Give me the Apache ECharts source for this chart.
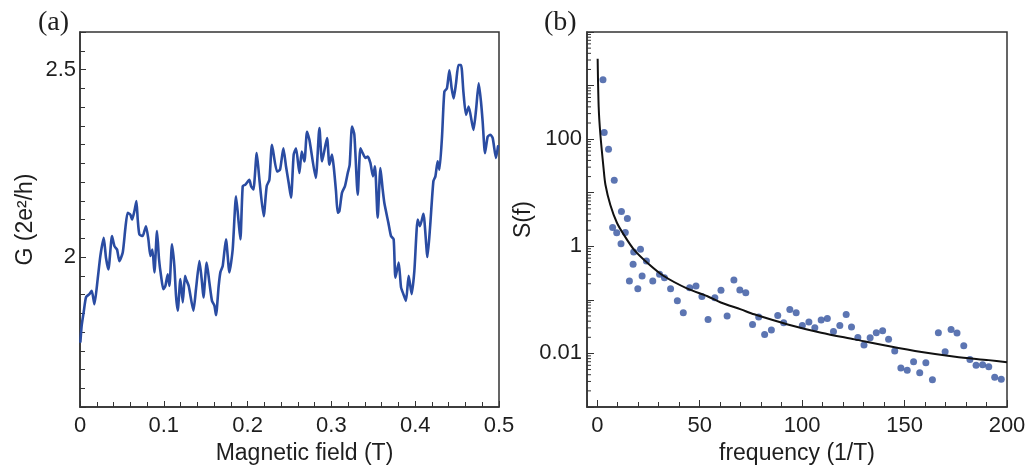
<!DOCTYPE html>
<html>
<head>
<meta charset="utf-8">
<script src="https://cdn.jsdelivr.net/npm/echarts@6/dist/echarts.min.js"></script>
<style>
  html, body { margin: 0; padding: 0; background: #fff; }
  #main { width: 1030px; height: 473px; }
</style>
</head>
<body>
<div id="main"></div>
<script>
// (a) conductance vs magnetic field
var fieldT = [0.0005,0.002,0.0044,0.0072,0.0112,0.014,0.0172,0.0211,0.0243,0.0283,
  0.031,0.0339,0.0382,0.0411,0.0442,0.047,0.051,0.0542,0.0569,0.0601,
  0.0621,0.0649,0.0673,0.0689,0.0709,0.0748,0.0768,0.0788,0.0816,0.084,
  0.0864,0.0888,0.0919,0.0943,0.0967,0.0995,0.1019,0.1047,0.1067,0.1098,
  0.1126,0.1146,0.1166,0.1198,0.1226,0.1253,0.1265,0.1297,0.1353,0.1384,
  0.1425,0.1456,0.1473,0.1512,0.1544,0.1575,0.1604,0.1623,0.1655,0.1675,
  0.1703,0.1742,0.1783,0.1822,0.1862,0.1894,0.1914,0.1942,0.1974,0.2021,
  0.2041,0.2069,0.2109,0.2141,0.2192,0.2228,0.226,0.2291,0.2351,0.2387,
  0.2427,0.2458,0.249,0.2518,0.255,0.2578,0.2618,0.2646,0.2678,0.2709,
  0.2738,0.2813,0.2857,0.2888,0.2948,0.2976,0.3007,0.3027,0.3055,0.3075,
  0.3095,0.3126,0.3162,0.3195,0.3218,0.3246,0.3274,0.3314,0.3346,0.3374,
  0.3406,0.3433,0.3465,0.3496,0.352,0.3552,0.3585,0.3612,0.3632,0.368,
  0.3711,0.3743,0.3764,0.3803,0.3831,0.3859,0.389,0.3922,0.3958,0.399,
  0.403,0.4057,0.4098,0.4146,0.4177,0.4217,0.4241,0.4268,0.4289,0.432,
  0.4348,0.4379,0.4408,0.4435,0.4459,0.4487,0.4516,0.4547,0.4575,0.4606,
  0.4638,0.4695,0.4726,0.4758,0.4785,0.4805,0.4833,0.4865,0.4897,0.4925,
  0.4964,0.4988];
var condG = [1.774,1.817,1.853,1.893,1.901,1.910,1.874,1.941,2.003,2.051,
  1.998,1.967,2.056,2.029,2.020,1.989,2.012,2.078,2.118,2.113,
  2.100,2.122,2.149,2.100,2.060,2.056,2.069,2.082,2.047,2.003,
  2.020,1.959,2.069,1.994,1.950,1.914,1.923,1.954,1.923,2.034,
  1.976,1.896,1.857,1.941,1.879,1.950,1.941,1.923,1.857,1.914,
  1.989,1.932,1.892,1.985,1.932,1.883,1.870,1.845,1.923,1.959,
  1.976,2.047,1.959,2.020,2.162,2.091,2.047,2.189,2.193,2.206,
  2.189,2.180,2.277,2.206,2.109,2.189,2.206,2.299,2.228,2.233,
  2.290,2.242,2.198,2.158,2.273,2.290,2.224,2.281,2.255,2.334,
  2.312,2.211,2.344,2.255,2.317,2.246,2.273,2.242,2.175,2.118,
  2.122,2.171,2.189,2.224,2.246,2.348,2.326,2.166,2.290,2.277,
  2.264,2.268,2.251,2.215,2.242,2.105,2.237,2.180,2.144,2.091,
  2.056,2.047,1.945,1.985,1.919,1.901,1.883,1.950,1.901,1.963,
  2.100,2.082,2.115,2.000,2.078,2.202,2.215,2.255,2.233,2.321,
  2.441,2.450,2.498,2.450,2.423,2.463,2.512,2.512,2.441,2.379,
  2.401,2.339,2.392,2.463,2.414,2.361,2.277,2.321,2.326,2.317,
  2.264,2.295];

// (b) power spectrum points
var freqPts = [2.8,3.4,5.5,7.5,8.3,9.5,11.6,11.8,13.7,14.7,
  15.7,17.5,17.8,19.8,21.1,21.9,24,27.1,30.4,32.8,
  35.8,39.1,42,45.1,48.2,51.1,54.1,57.4,60.4,63.4,
  66.7,69.6,72.5,75.8,78.8,81.7,85,88.1,91,94,
  97.1,100.1,103.3,106.2,109.3,112.3,115.3,118.4,121.5,124.1,
  127.2,130.2,133.2,136.2,139.3,142.2,145.2,148.2,151.3,154.4,
  157.4,160.4,163.6,166.5,169.8,172.7,175.6,178.9,181.9,184.9,
  188.1,191.1,194,197.2,200.2];
var specPts = [1280,133,65,2.24,17.1,1.78,1.12,4.46,1.80,3.3,
  0.225,0.46,0.78,0.162,0.88,0.28,0.53,0.225,0.30,0.26,
  0.162,0.0966,0.0576,0.169,0.181,0.115,0.043,0.11,0.151,0.050,
  0.234,0.153,0.136,0.0348,0.0478,0.0226,0.0273,0.0513,0.0374,0.0664,
  0.0577,0.0333,0.0388,0.030,0.0419,0.0451,0.0258,0.0331,0.0531,0.0313,
  0.0199,0.0143,0.0196,0.0242,0.0265,0.0183,0.0111,0.00536,0.00485,0.00703,
  0.00435,0.0067,0.00324,0.0244,0.0108,0.0281,0.024,0.0139,0.00773,0.00601,
  0.00618,0.00564,0.0036,0.0033,0.00555];

// (b) fitted curve
var fitFreq = [0.2,0.7,1.5,3.1,4,6.4,9.6,12.9,17.8,24.4,32.5,44,53.8,60.3,70.1,76.6,93,109.3,125.6,142,158.3,174.7,191,200];
var fitS = [3160,398,126,28.2,14.1,5.89,2.75,1.66,0.879,0.495,0.279,0.162,0.117,0.0891,0.0664,0.0537,0.0348,0.0244,0.0183,0.0137,0.0106,0.00867,0.0075,0.00687];

// axis labels
var leftYLabels = [2, 2.5];
var rightYLabels = [100, 1, 0.01];
var logDecades = [0.001, 0.01, 0.1, 1, 10, 100, 1000];
var logSteps = [2, 3, 4, 5, 6, 7, 8, 9];

var ink = '#1e1e1e';
var frame = '#333';
var sans = 'Liberation Sans';

function pairs(xs, ys) {
  return xs.map(function (x, i) { return [x, ys[i]]; });
}

var minorLogTicks = [];
logDecades.forEach(function (d) {
  logSteps.forEach(function (s) { minorLogTicks.push([-5, d * s]); });
});

var chart = echarts.init(document.getElementById('main'));

var option = {
  animation: false,
  textStyle: { fontFamily: sans },
  title: [
    { text: '(a)', left: 33, top: 4, textStyle: { fontFamily: 'Liberation Serif', fontSize: 28, fontWeight: 'normal', color: ink } },
    { text: '(b)', left: 539, top: 4, textStyle: { fontFamily: 'Liberation Serif', fontSize: 28, fontWeight: 'normal', color: ink } }
  ],
  grid: [
    { left: 80, top: 32, width: 419, height: 375, show: true, borderColor: frame, borderWidth: 1.5 },
    { left: 587, top: 32, width: 420, height: 375, show: true, borderColor: frame, borderWidth: 1.5 }
  ],
  xAxis: [
    {
      gridIndex: 0, type: 'value', min: 0, max: 0.5, interval: 0.1,
      name: 'Magnetic field (T)', nameLocation: 'middle', nameGap: 31,
      nameTextStyle: { fontSize: 23, color: ink, padding: [0, 0, 0, 30] },
      axisLine: { onZero: false, lineStyle: { color: frame, width: 1.5 } },
      axisTick: { inside: true, length: 6, lineStyle: { color: frame } },
      minorTick: { show: true, splitNumber: 5, length: 5, lineStyle: { color: frame } },
      axisLabel: { fontSize: 22, color: ink, margin: 8 },
      splitLine: { show: false }
    },
    {
      gridIndex: 1, type: 'value', min: -5, max: 200, minInterval: 50, maxInterval: 50,
      name: 'frequency (1/T)', nameLocation: 'middle', nameGap: 31,
      nameTextStyle: { fontSize: 23, color: ink },
      axisLine: { onZero: false, lineStyle: { color: frame, width: 1.5 } },
      axisTick: { inside: true, length: 7, lineStyle: { color: frame } },
      minorTick: { show: true, splitNumber: 5, length: 5, lineStyle: { color: frame } },
      axisLabel: {
        fontSize: 22, color: ink, margin: 8,
        formatter: function (v) { return v < 0 ? '' : String(v); }
      },
      splitLine: { show: false }
    }
  ],
  yAxis: [
    {
      gridIndex: 0, type: 'value', min: 1.6, max: 2.6, minInterval: 0.5, maxInterval: 0.5,
      name: 'G (2e²/h)', nameLocation: 'middle', nameGap: 43,
      nameTextStyle: { fontSize: 23, color: ink },
      axisLine: { onZero: false, lineStyle: { color: frame, width: 1.5 } },
      axisTick: { inside: true, length: 6, lineStyle: { color: frame } },
      minorTick: { show: true, splitNumber: 10, length: 5, lineStyle: { color: frame } },
      axisLabel: {
        fontSize: 22, color: ink, margin: 4,
        formatter: function (v) {
          for (var i = 0; i < leftYLabels.length; i++) {
            if (Math.abs(v - leftYLabels[i]) < 1e-6) return String(leftYLabels[i]);
          }
          return '';
        }
      },
      splitLine: { show: false }
    },
    {
      gridIndex: 1, type: 'log', logBase: 10, min: 0.001, max: 10000,
      name: 'S(f)', nameLocation: 'middle', nameGap: 47,
      nameTextStyle: { fontSize: 23, color: ink },
      axisLine: { onZero: false, lineStyle: { color: frame, width: 1.5 } },
      axisTick: { inside: true, length: 7, lineStyle: { color: frame } },
      axisLabel: {
        fontSize: 22, color: ink, margin: 5,
        formatter: function (v) {
          var e = Math.round(Math.log10(v));
          for (var i = 0; i < rightYLabels.length; i++) {
            if (Math.round(Math.log10(rightYLabels[i])) === e) return String(rightYLabels[i]);
          }
          return '';
        }
      },
      splitLine: { show: false }
    }
  ],
  series: [
    {
      type: 'line', xAxisIndex: 0, yAxisIndex: 0,
      data: pairs(fieldT, condG),
      symbol: 'none', smooth: 0.2,
      lineStyle: { color: '#2a4ca2', width: 2.6, join: 'round', cap: 'round' }
    },
    {
      type: 'scatter', xAxisIndex: 1, yAxisIndex: 1,
      data: pairs(freqPts, specPts),
      symbolSize: 7,
      itemStyle: { color: '#33539f' }
    },
    {
      type: 'line', xAxisIndex: 1, yAxisIndex: 1,
      data: pairs(fitFreq, fitS),
      symbol: 'none', smooth: 0.3,
      lineStyle: { color: '#111', width: 2 },
      z: 3
    },
    {
      // log minor ticks on the S(f) axis
      type: 'custom', xAxisIndex: 1, yAxisIndex: 1, silent: true, clip: false,
      data: minorLogTicks,
      renderItem: function (params, api) {
        var p = api.coord([api.value(0), api.value(1)]);
        return {
          type: 'line',
          shape: { x1: p[0], y1: p[1], x2: p[0] + 4, y2: p[1] },
          style: { stroke: frame, lineWidth: 1 }
        };
      }
    }
  ]
};

chart.setOption(option);
</script>
</body>
</html>
